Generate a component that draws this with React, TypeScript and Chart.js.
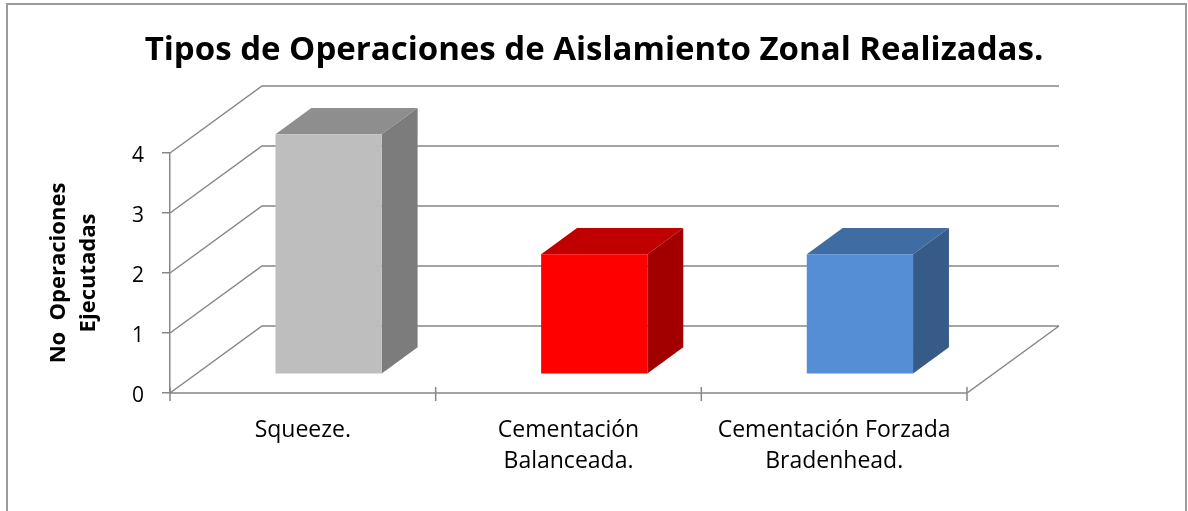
import React, { useEffect, useRef } from "react";
import { Chart, registerables } from "chart.js";

Chart.register(...registerables);

const CHART_TITLE = "Tipos de Operaciones de Aislamiento Zonal Realizadas.";
const Y_TITLE = ["No  Operaciones", "Ejecutadas"];
const CATEGORIES = [["Squeeze."], ["Cementación", "Balanceada."], ["Cementación Forzada", "Bradenhead."]];
const VALUES = [4, 2, 2];
const Y_TICKS = [0, 1, 2, 3, 4];
const FRONT_COLORS = ["#BEBEBE", "#FF0000", "#558ED5"];
const TOP_COLORS = ["#8E8E8E", "#C00000", "#3F6CA3"];
const SIDE_COLORS = ["#7C7C7C", "#A20000", "#365B89"];

const FONT = "'Open Sans', Lato, sans-serif";
const GRID = "#878787";
const DEPTH_DX = 92;
const DEPTH_DY = -67;
const BAR_FRONT = 0.28;
const BAR_BACK = 0.67;

const threeD = {
  id: "threeD",
  beforeDraw(chart: any) {
    const ctx = chart.ctx;
    ctx.save();
    ctx.fillStyle = "#ffffff";
    ctx.fillRect(0, 0, chart.width, chart.height);
    ctx.strokeStyle = "#9B9B9B";
    ctx.lineWidth = 2;
    ctx.beginPath();
    ctx.moveTo(7, chart.height);
    ctx.lineTo(7, 4);
    ctx.lineTo(1186, 4);
    ctx.lineTo(1186, chart.height);
    ctx.stroke();
    ctx.restore();
  },
  beforeDatasetsDraw(chart: any) {
    const { ctx, chartArea, scales } = chart;
    const { left, right } = chartArea;
    const x = scales.x;
    const y = scales.y;
    ctx.save();
    ctx.strokeStyle = GRID;
    ctx.lineWidth = 1.5;
    ctx.beginPath();
    for (const t of y.ticks) {
      const py = y.getPixelForValue(t.value);
      ctx.moveTo(left, py);
      ctx.lineTo(left + DEPTH_DX, py + DEPTH_DY);
      ctx.lineTo(right + DEPTH_DX, py + DEPTH_DY);
    }
    const y0 = y.getPixelForValue(0);
    ctx.moveTo(left, y0);
    ctx.lineTo(right, y0);
    ctx.lineTo(right + DEPTH_DX, y0 + DEPTH_DY);
    const n = x.ticks.length;
    for (let i = 0; i <= n; i++) {
      const px = x.getPixelForValue(i - 0.5);
      ctx.moveTo(px, y0 - 6);
      ctx.lineTo(px, y0 + 8);
    }
    ctx.stroke();
    ctx.restore();
  },
  afterDatasetsDraw(chart: any) {
    const ctx = chart.ctx;
    const meta = chart.getDatasetMeta(0);
    const fx = BAR_FRONT * DEPTH_DX;
    const fy = BAR_FRONT * DEPTH_DY;
    const bx = BAR_BACK * DEPTH_DX;
    const by = BAR_BACK * DEPTH_DY;
    const poly = (color: string, pts: number[][]) => {
      ctx.fillStyle = color;
      ctx.beginPath();
      ctx.moveTo(pts[0][0], pts[0][1]);
      for (let k = 1; k < pts.length; k++) ctx.lineTo(pts[k][0], pts[k][1]);
      ctx.closePath();
      ctx.fill();
    };
    ctx.save();
    meta.data.forEach((el: any, i: number) => {
      const p = el.getProps(["x", "y", "base", "width"], true);
      const L = p.x - p.width / 2;
      const R = p.x + p.width / 2;
      const top = p.y;
      const base = p.base;
      poly(TOP_COLORS[i], [
        [L + fx, top + fy],
        [R + fx, top + fy],
        [R + bx, top + by],
        [L + bx, top + by],
      ]);
      poly(SIDE_COLORS[i], [
        [R + fx, top + fy],
        [R + bx, top + by],
        [R + bx, base + by],
        [R + fx, base + fy],
      ]);
      ctx.fillStyle = FRONT_COLORS[i];
      ctx.fillRect(L + fx, top + fy, p.width, base - top);
    });
    ctx.restore();
  },
};

export default function App() {
  const ref = useRef<HTMLCanvasElement | null>(null);

  useEffect(() => {
    if (!ref.current) return;
    const chart = new Chart(ref.current, {
      type: "bar",
      data: {
        labels: CATEGORIES,
        datasets: [
          {
            data: VALUES,
            backgroundColor: "rgba(0,0,0,0)",
            borderWidth: 0,
            barPercentage: 0.4,
            categoryPercentage: 1,
          },
        ],
      },
      options: {
        animation: false,
        responsive: false,
        devicePixelRatio: 1,
        events: [],
        layout: { padding: 0 },
        plugins: {
          legend: { display: false },
          tooltip: { enabled: false },
          title: {
            display: true,
            text: CHART_TITLE,
            color: "#000",
            font: { family: FONT, size: 33, weight: "bold", lineHeight: "40px" },
            padding: { top: 31, bottom: 82 },
          },
        },
        scales: {
          x: {
            type: "category",
            offset: true,
            grid: { display: false, drawTicks: false },
            border: { display: false },
            ticks: {
              color: "#000",
              font: { family: FONT, size: 23, lineHeight: "31px" },
              padding: 22,
              maxRotation: 0,
              minRotation: 0,
              autoSkip: false,
            },
            afterFit: (s: any) => {
              s.height = 118;
            },
          },
          y: {
            type: "linear",
            position: "left",
            min: 0,
            max: 4,
            afterBuildTicks: (s: any) => {
              s.ticks = Y_TICKS.map((v) => ({ value: v }));
            },
            grid: { drawOnChartArea: false, drawTicks: true, tickLength: 8, color: GRID, lineWidth: 1.5 },
            border: { display: true, color: GRID, width: 1.5 },
            ticks: { color: "#000", font: { family: FONT, size: 21 }, padding: 18, labelOffset: 3 },
            title: {
              display: true,
              text: Y_TITLE,
              color: "#000",
              font: { family: FONT, size: 22, weight: "bold", lineHeight: "30px" },
              padding: { top: 44, bottom: 0 },
            },
            afterFit: (s: any) => {
              s.width = 170;
            },
          },
          yRight: {
            type: "linear",
            position: "right",
            display: true,
            grid: { display: false },
            border: { display: false },
            ticks: { display: false },
            afterFit: (s: any) => {
              s.width = 221;
            },
          },
        },
      },
      plugins: [threeD],
    } as any);
    return () => chart.destroy();
  }, []);

  return (
    <div style={{ position: "absolute", left: 0, top: 0, width: 1188, height: 511 }}>
      <canvas ref={ref} width={1188} height={511} />
    </div>
  );
}
